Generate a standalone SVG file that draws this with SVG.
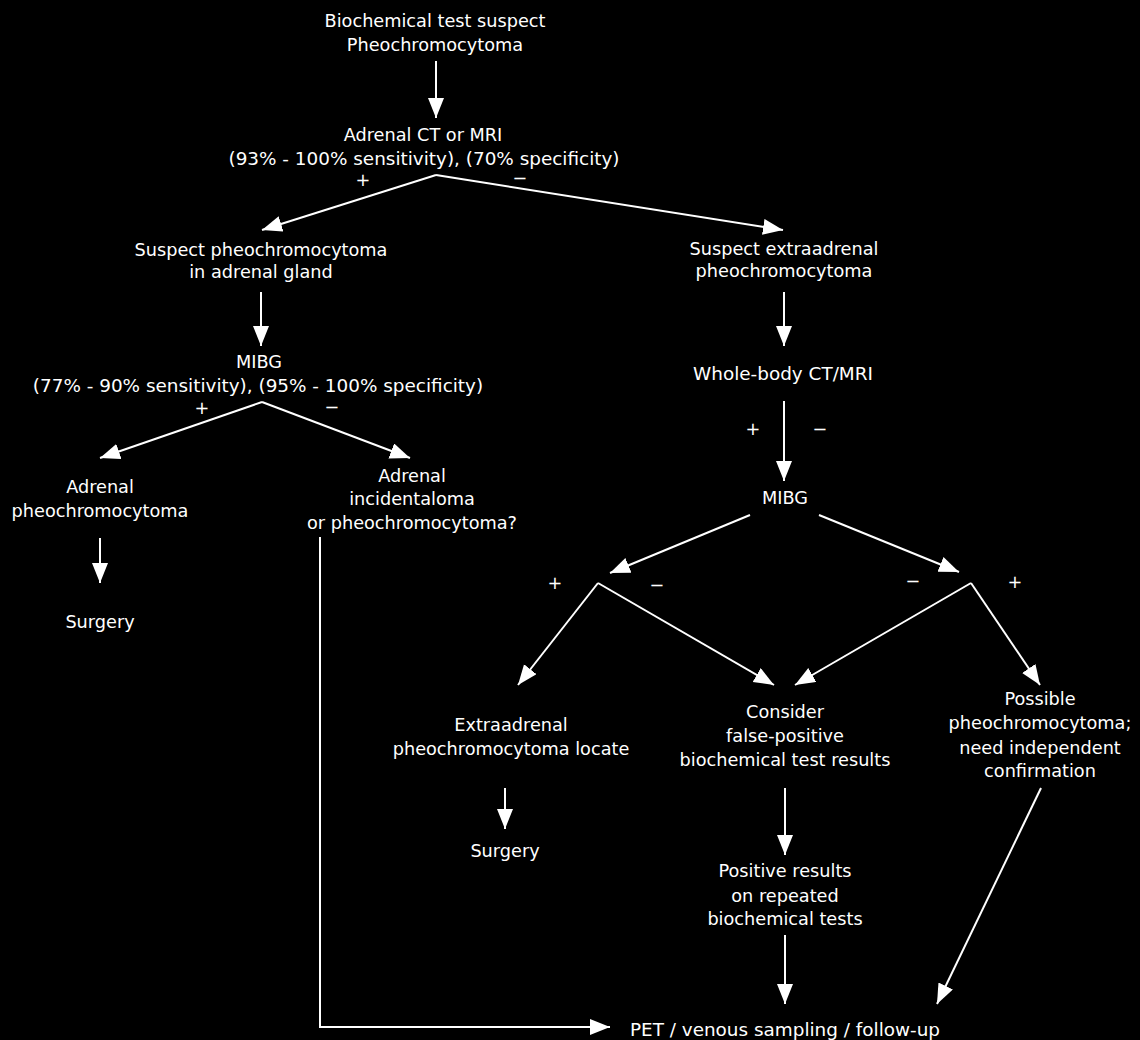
<svg xmlns="http://www.w3.org/2000/svg" width="1140" height="1040" viewBox="0 0 1140 1040">
<defs>
<marker id="ah" markerUnits="userSpaceOnUse" markerWidth="22" markerHeight="18" refX="20" refY="8" orient="auto">
<path d="M0,0 L20,8 L0,16 Z" fill="#fff"/>
</marker>
<style>
text{font-family:"DejaVu Sans","Verdana",sans-serif;font-size:17.7px;fill:#fff;text-anchor:middle}
text.w{font-size:18.4px}
.c line,.c path{stroke:#fff;stroke-width:2;fill:none}
.a{marker-end:url(#ah)}
</style>
</defs>
<rect width="1140" height="1040" fill="#000"/>
<g class="c" id="connectors">
<line class="a" x1="436" y1="61" x2="436" y2="118"/>
<line class="a" x1="436" y1="175" x2="262" y2="230"/>
<line class="a" x1="436" y1="175" x2="783" y2="230"/>
<line class="a" x1="261" y1="292" x2="261" y2="346"/>
<line class="a" x1="784" y1="292" x2="784" y2="346"/>
<line class="a" x1="262" y1="402" x2="100" y2="458"/>
<line class="a" x1="262" y1="402" x2="410" y2="458"/>
<line class="a" x1="100" y1="538" x2="100" y2="583"/>
<path class="a" d="M320,537 L320,1027 L610,1027"/>
<line class="a" x1="784" y1="401" x2="784" y2="481"/>
<line class="a" x1="750" y1="515" x2="610" y2="573"/>
<line class="a" x1="819" y1="515" x2="959" y2="572"/>
<line class="a" x1="598" y1="583" x2="518" y2="685"/>
<line class="a" x1="598" y1="583" x2="774" y2="685"/>
<line class="a" x1="971" y1="583" x2="795" y2="685"/>
<line class="a" x1="971" y1="583" x2="1040" y2="685"/>
<line class="a" x1="505" y1="788" x2="505" y2="829"/>
<line class="a" x1="785" y1="788" x2="785" y2="855"/>
<line class="a" x1="785" y1="935" x2="785" y2="1004"/>
<line class="a" x1="1041" y1="788" x2="937" y2="1004"/>
</g>
<g id="n1"><text x="435" y="27">Biochemical test suspect</text><text x="435" y="51">Pheochromocytoma</text></g>
<g id="n2"><text x="423" y="141">Adrenal CT or MRI</text><text class="w" x="424" y="165">(93% - 100% sensitivity), (70% specificity)</text></g>
<g id="l1"><text x="363" y="186">+</text><text x="520" y="184">−</text></g>
<g id="n3"><text x="261" y="256">Suspect pheochromocytoma</text><text x="261" y="278">in adrenal gland</text></g>
<g id="n4"><text x="784" y="255">Suspect extraadrenal</text><text x="784" y="277">pheochromocytoma</text></g>
<g id="n5"><text x="259" y="368">MIBG</text><text class="w" x="258" y="392">(77% - 90% sensitivity), (95% - 100% specificity)</text></g>
<g id="l2"><text x="202" y="414">+</text><text x="332" y="413">−</text></g>
<g id="n6"><text x="100" y="493">Adrenal</text><text x="100" y="517">pheochromocytoma</text></g>
<g id="n7"><text x="412" y="482">Adrenal</text><text x="412" y="505">incidentaloma</text><text x="412" y="529">or pheochromocytoma?</text></g>
<g id="n8"><text x="100" y="628">Surgery</text></g>
<g id="n9"><text class="w" x="783" y="380">Whole-body CT/MRI</text></g>
<g id="l3"><text x="753" y="435">+</text><text x="820" y="435">−</text></g>
<g id="n10"><text x="785" y="504">MIBG</text></g>
<g id="l4"><text x="555" y="589">+</text><text x="657" y="591">−</text><text x="913" y="587">−</text><text x="1015" y="588">+</text></g>
<g id="n11"><text x="511" y="731">Extraadrenal</text><text x="511" y="755">pheochromocytoma locate</text></g>
<g id="n12"><text x="785" y="718">Consider</text><text x="785" y="742">false-positive</text><text x="785" y="766">biochemical test results</text></g>
<g id="n13"><text x="1040" y="705">Possible</text><text x="1040" y="729">pheochromocytoma;</text><text x="1040" y="754">need independent</text><text x="1040" y="777">confirmation</text></g>
<g id="n14"><text x="505" y="857">Surgery</text></g>
<g id="n15"><text x="785" y="877">Positive results</text><text x="785" y="902">on repeated</text><text x="785" y="925">biochemical tests</text></g>
<g id="n16"><text class="w" x="785" y="1036">PET / venous sampling / follow-up</text></g>
</svg>
